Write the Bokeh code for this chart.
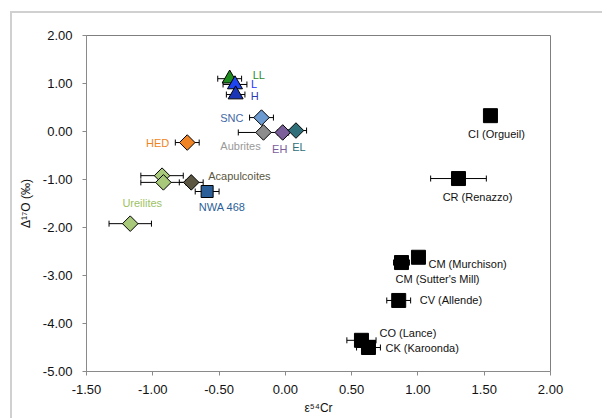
from bokeh.plotting import figure
from bokeh.models import ColumnDataSource, Whisker, FixedTicker, NumeralTickFormatter, TeeHead
from bokeh.core.properties import value
from bokeh.embed import file_html
from bokeh.resources import INLINE
import math

# ---- data ----
groups = ["LL", "L", "H", "SNC", "Aubrites", "EH", "EL", "HED",
          "Ureilites", "Ureilites", "Ureilites", "Acapulcoites", "NWA 468",
          "CI (Orgueil)", "CR (Renazzo)", "CM (Murchison)", "CM (Sutter's Mill)",
          "CV (Allende)", "CO (Lance)", "CK (Karoonda)"]
eps54Cr = [-0.42, -0.38, -0.375, -0.18, -0.165, -0.02, 0.08, -0.74,
           -0.93, -0.92, -1.17, -0.71, -0.59,
           1.547, 1.306, 1.004, 0.876, 0.855, 0.574, 0.627]
d17O = [1.10, 0.98, 0.77, 0.29, -0.02, -0.02, 0.02, -0.23,
        -0.92, -1.06, -1.92, -1.06, -1.25,
        0.33, -0.98, -2.62, -2.73, -3.52, -4.35, -4.50]
eps_err = [0.09, 0.09, 0.07, 0.09, 0.19, 0.04, 0.08, 0.09,
           0.16, 0.17, 0.16, 0.09, 0.09,
           0.03, 0.21, 0.04, 0.06, 0.09, 0.11, 0.09]
x_ticks = [-1.5, -1.0, -0.5, 0.0, 0.5, 1.0, 1.5, 2.0]
y_ticks = [-5, -4, -3, -2, -1, 0, 1, 2]

# ---- styles ----
style = {
    "LL": ("triangle", 15, "#1e8c1e", "#2e8b2e"),
    "L": ("triangle", 15, "#1f45f0", "#2233ff"),
    "H": ("triangle", 15, "#1a35b5", "#2a3ab0"),
    "SNC": ("diamond", 11, "#6c9bd2", "#4468a8"),
    "Aubrites": ("diamond", 11, "#8c8c8c", "#9a9a9a"),
    "EH": ("diamond", 11, "#7b5f9a", "#7a5c9c"),
    "EL": ("diamond", 11, "#2f6f7a", "#2f6f7a"),
    "HED": ("diamond", 11, "#f08424", "#f08424"),
    "Ureilites": ("diamond", 11, "#a9c97a", "#9dc264"),
    "Acapulcoites": ("diamond", 11, "#5b5641", "#5b5641"),
    "NWA 468": ("square", 12, "#2b5f99", "#2b5f99"),
}
carb = ("square", 14, "#000000", "#111111")

# label placement: (point index, dx px, dy px, align)
labels = [
    (0, 23, -4, "left"), (1, 16, 0, "left"), (2, 15, 1, "left"),
    (3, -18, 0, "right"), (4, -23, 14, "center"), (5, -3, 17, "center"),
    (6, 3, 16, "center"), (7, -18, 0, "right"), (10, 12, -21, "center"),
    (11, 17, -6, "left"), (12, 15, 15, "center"),
    (13, 6, 18, "center"), (14, 19, 18, "center"), (15, 10, 7, "left"),
    (16, 36, 16, "center"), (17, 21, 0, "left"), (18, 18, -7, "left"),
    (19, 17, 0, "left"),
]

markers, sizes, fills, tcols, angles = [], [], [], [], []
for g in groups:
    m, s, f, t = style.get(g, carb)
    if m == "diamond":
        markers.append("square"); angles.append(math.pi / 4)
    else:
        markers.append(m); angles.append(0.0)
    sizes.append(s); fills.append(f); tcols.append(t)

src = ColumnDataSource(dict(
    x=eps54Cr, y=d17O,
    lo=[a - e for a, e in zip(eps54Cr, eps_err)],
    hi=[a + e for a, e in zip(eps54Cr, eps_err)],
    marker=markers, size=sizes, fill=fills, angle=angles,
))

W, H = 602, 418
p = figure(width=W, height=H, x_range=(-1.5, 2.0), y_range=(-5.0, 2.0),
           output_backend="svg", toolbar_location=None,
           min_border_left=86, min_border_right=W - 86 - 464,
           min_border_top=35, min_border_bottom=H - 35 - 336)
p.xgrid.visible = False
p.ygrid.visible = False
p.outline_line_color = "#7f7f7f"
p.outline_line_width = 1
p.background_fill_color = "white"
p.border_fill_color = None
# light outer chart-area border, partially visible (left and top) as in the reference
p.styles = {
    "background": "linear-gradient(#d0d0d0,#d0d0d0) 10px 11px / 2px 100% no-repeat, "
                  "linear-gradient(#d0d0d0,#d0d0d0) 10px 11px / 100% 2px no-repeat, white"
}

FONT = "Liberation Sans"
for ax in (p.xaxis[0], p.yaxis[0]):
    ax.axis_line_color = "#8a8a8a"
    ax.major_tick_line_color = "#8a8a8a"
    ax.minor_tick_line_color = None
    ax.major_tick_in = 0
    ax.major_tick_out = 4
    ax.major_label_text_font = FONT
    ax.major_label_text_font_size = "13px"
    ax.major_label_text_color = "#111111"
    ax.axis_label_text_font = FONT
    ax.axis_label_text_font_size = "12px"
    ax.axis_label_text_font_style = "normal"
    ax.axis_label_text_color = "#111111"
    ax.formatter = NumeralTickFormatter(format="0.00")
p.xaxis[0].ticker = FixedTicker(ticks=x_ticks)
p.yaxis[0].ticker = FixedTicker(ticks=y_ticks)
p.xaxis[0].axis_label = "ε⁵⁴Cr"
p.yaxis[0].axis_label = "Δ¹⁷O (‰)"
p.xaxis[0].major_label_standoff = 9
p.xaxis[0].axis_label_standoff = 4
p.yaxis[0].major_label_standoff = 10
p.yaxis[0].axis_label_standoff = 7

wh = Whisker(source=src, base="y", lower="lo", upper="hi", dimension="width",
             line_color="#000000", line_width=1, level="underlay",
             upper_head=TeeHead(size=6, line_color="#000000", line_width=1),
             lower_head=TeeHead(size=6, line_color="#000000", line_width=1))
p.add_layout(wh)

p.scatter("x", "y", source=src, marker="marker", size="size", angle="angle",
          fill_color="fill", line_color="#000000", line_width=1)

for align in ("left", "right", "center"):
    sel = [l for l in labels if l[3] == align]
    if not sel:
        continue
    ls = ColumnDataSource(dict(
        x=[eps54Cr[i] for i, *_ in sel],
        y=[d17O[i] for i, *_ in sel],
        t=[groups[i] for i, *_ in sel],
        dx=[dx for _, dx, _, _ in sel],
        dy=[dy for _, _, dy, _ in sel],
        c=[tcols[i] for i, *_ in sel],
    ))
    p.text("x", "y", text="t", source=ls, x_offset="dx", y_offset="dy",
           text_color="c", text_font=value(FONT), text_font_size="11px",
           text_align=align, text_baseline="middle")

open("out.html", "w").write(file_html(p, INLINE))
